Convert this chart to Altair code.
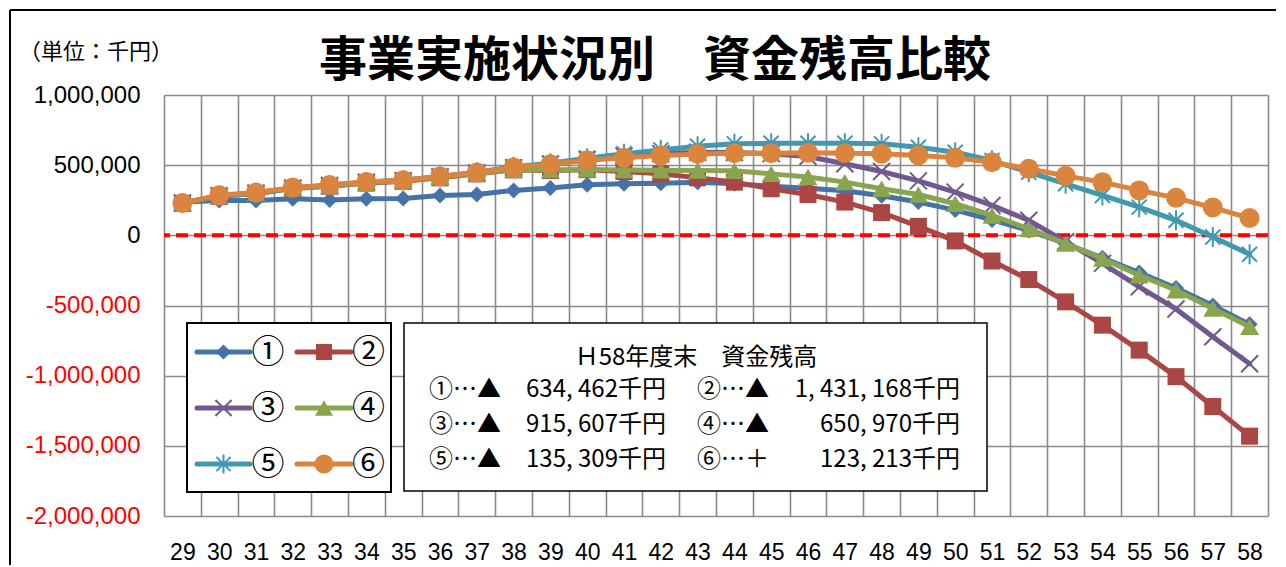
import altair as alt
import pandas as pd

# ---------------- data ----------------
years = list(range(29, 59))
series_names = ["①", "②", "③", "④", "⑤", "⑥"]

s1 = [237000, 249000, 249000, 261000, 252000, 261000, 262000, 284000, 291000, 320000,
      338000, 360000, 367000, 372000, 379000, 367000, 350000, 335000, 318000, 282000,
      237000, 180000, 110000, 35000, -60000, -160000, -265000, -375000, -500000, -634462]
s2 = [228000, 278000, 298000, 333000, 350000, 372000, 385000, 410000, 438000, 466000,
      462000, 468000, 455000, 438000, 410000, 379000, 332000, 291000, 237000, 162000,
      64000, -40000, -183000, -315000, -474000, -640000, -818000, -1007000, -1220000, -1431168]
s3 = [230000, 282000, 302000, 337000, 356000, 378000, 390000, 417000, 445000, 482000,
      508000, 540000, 565000, 582000, 592000, 590000, 582000, 562000, 510000, 455000,
      388000, 308000, 213000, 107000, -45000, -200000, -367000, -525000, -723000, -915607]
s4 = [230000, 280000, 300000, 335000, 352000, 375000, 388000, 414000, 440000, 468000,
      465000, 470000, 465000, 463000, 462000, 460000, 438000, 415000, 379000, 332000,
      291000, 225000, 142000, 47000, -59000, -166000, -284000, -391000, -521000, -650970]
s5 = [228000, 282000, 302000, 338000, 357000, 380000, 392000, 420000, 450000, 488000,
      514000, 550000, 581000, 609000, 635000, 652000, 656000, 656000, 656000, 652000,
      628000, 592000, 533000, 450000, 367000, 284000, 201000, 107000, -12000, -135309]
s6 = [230000, 285000, 305000, 340000, 358000, 380000, 392000, 420000, 448000, 484000,
      506000, 535000, 552000, 568000, 580000, 585000, 585000, 588000, 585000, 582000,
      569000, 552000, 521000, 474000, 424000, 379000, 320000, 267000, 198000, 123213]
series_values = [s1, s2, s3, s4, s5, s6]

y_ticks = [-2000000, -1500000, -1000000, -500000, 0, 500000, 1000000]
x_bounds = [y - 0.5 for y in years] + [years[-1] + 0.5]

title_text = "事業実施状況別　資金残高比較"
unit_text = "（単位：千円）"
box_title = "Ｈ58年度末　資金残高"

# ---------------- styles ----------------
colors = ["#4572A7", "#AA4643", "#71588F", "#89A54E", "#4198AF", "#DB843D"]
shapes = ["diamond", "square", "M-1,-1L1,1M-1,1L1,-1", "triangle-up",
          "M0,-1L0,1M-0.75,-0.75L0.75,0.75M-0.75,0.75L0.75,-0.75", "circle"]
filled = [True, True, False, True, False, True]
sizes = [256, 289, 289, 361, 400, 400]

JP = "Noto Sans CJK JP"
LAT = "Liberation Sans, Arial, sans-serif"

W, H = 1104, 421
band = W / len(years)

x_enc = alt.X(
    "year:Q",
    title=None,
    scale=alt.Scale(domain=[x_bounds[0], x_bounds[-1]], nice=False, zero=False),
    axis=alt.Axis(
        values=x_bounds,
        labelExpr=f"datum.value < {years[-1]} ? format(datum.value + 0.5, 'd') : ''",
        labelOffset=band / 2,
        labelFlush=False,
        labelOverlap=False,
        labelFont=LAT,
        labelFontSize=23,
        labelColor="black",
        labelPadding=25,
        ticks=False,
        tickSize=0,
        domain=False,
        grid=True,
        gridColor="#8a8a8a",
        gridWidth=1.6,
    ),
)
y_enc = alt.Y(
    "value:Q",
    title=None,
    scale=alt.Scale(domain=[y_ticks[0], y_ticks[-1]], nice=False, zero=False),
    axis=alt.Axis(
        values=y_ticks,
        labelExpr="replace(format(datum.value, ','), '\u2212', '-')",
        labelColor={"condition": {"test": "datum.value < 0", "value": "#ff0000"}, "value": "black"},
        labelFont=LAT,
        labelFontSize=24,
        labelPadding=24,
        ticks=False,
        tickSize=0,
        domain=False,
        grid=True,
        gridColor="#8a8a8a",
        gridWidth=1.6,
    ),
)

rows = []
for name, vals in zip(series_names, series_values):
    for yr, v in zip(years, vals):
        rows.append({"year": yr, "value": v, "series": name})
df = pd.DataFrame(rows)

one = alt.Data(values=[{}])

layers = []
# zero line
layers.append(
    alt.Chart(alt.Data(values=[{"value": 0}]))
    .mark_rule(color="#ff0000", strokeWidth=4, strokeDash=[12, 6])
    .encode(y=y_enc)
)

for i, name in enumerate(series_names):
    d = df[df["series"] == name]
    layers.append(
        alt.Chart(d).mark_line(color=colors[i], strokeWidth=5, strokeCap="round", strokeJoin="round")
        .encode(x=x_enc, y=y_enc)
    )
    if filled[i]:
        pm = alt.Chart(d).mark_point(shape=shapes[i], size=sizes[i], filled=True, color=colors[i], opacity=1)
    else:
        pm = alt.Chart(d).mark_point(shape=shapes[i], size=sizes[i], filled=False, color=colors[i],
                                     strokeWidth=2, opacity=1)
    layers.append(pm.encode(x=x_enc, y=y_enc))


def text_layer(s, x, y, size, align="left", weight="normal", font=JP, color="black"):
    return alt.Chart(one).mark_text(
        text=s, align=align, baseline="middle", font=font, fontSize=size,
        fontWeight=weight, color=color
    ).encode(x=alt.value(x), y=alt.value(y))


# outer frame (left and top edges)
layers.append(alt.Chart(one).mark_rule(color="black", strokeWidth=2)
              .encode(x=alt.value(-154), y=alt.value(-85), y2=alt.value(470)))
layers.append(alt.Chart(one).mark_rule(color="black", strokeWidth=2)
              .encode(x=alt.value(-154), x2=alt.value(1120), y=alt.value(-85)))

# titles
layers.append(text_layer(title_text, 491, -33, 48, align="center", weight="bold"))
layers.append(text_layer(unit_text, -145, -43, 22))

# legend box
layers.append(alt.Chart(one).mark_rect(fill="white", stroke="black", strokeWidth=2)
              .encode(x=alt.value(23), x2=alt.value(227), y=alt.value(228), y2=alt.value(397)))
leg_line_x = [(33, 86), (133, 187)]
leg_mark_x = [59.5, 160]
leg_text_x = [104, 204.5]
leg_row_y = [257, 313, 369]
for i, name in enumerate(series_names):
    c, r = i % 2, i // 2
    yy = leg_row_y[r]
    layers.append(alt.Chart(one).mark_rule(color=colors[i], strokeWidth=5, strokeCap="round")
                  .encode(x=alt.value(leg_line_x[c][0]), x2=alt.value(leg_line_x[c][1]), y=alt.value(yy)))
    if filled[i]:
        pm = alt.Chart(one).mark_point(shape=shapes[i], size=sizes[i] * 0.9, filled=True,
                                       color=colors[i], opacity=1)
    else:
        pm = alt.Chart(one).mark_point(shape=shapes[i], size=sizes[i] * 0.9, filled=False,
                                       color=colors[i], strokeWidth=2, opacity=1)
    layers.append(pm.encode(x=alt.value(leg_mark_x[c]), y=alt.value(yy)))
    layers.append(text_layer(name, leg_text_x[c], yy + 1, 33, align="center"))

# summary text box
layers.append(alt.Chart(one).mark_rect(fill="white", stroke="black", strokeWidth=1.5)
              .encode(x=alt.value(240), x2=alt.value(823), y=alt.value(228), y2=alt.value(396)))
layers.append(text_layer(box_title, 532, 263, 24, align="center"))
box_row_y = [295, 330, 365]
box_prefix_x = [265, 533]
box_amount_x = [502, 796]
for i, name in enumerate(series_names):
    c, r = i % 2, i // 2
    v = series_values[i][-1]
    prefix = f"{name}…{'▲' if v < 0 else '＋'}"
    amount = f"{abs(v):,}".replace(",", ", ") + "千円"
    layers.append(text_layer(prefix, box_prefix_x[c], box_row_y[r], 24))
    layers.append(text_layer(amount, box_amount_x[c], box_row_y[r], 24, align="right"))

chart = alt.layer(*layers).properties(
    width=W,
    height=H,
    padding={"left": 156, "top": 87, "right": 8, "bottom": 50},
    autosize=alt.AutoSizeParams(type="none"),
    background="white",
).configure_view(stroke=None)

chart.save("out.html", embed_options={"renderer": "svg", "actions": False})
